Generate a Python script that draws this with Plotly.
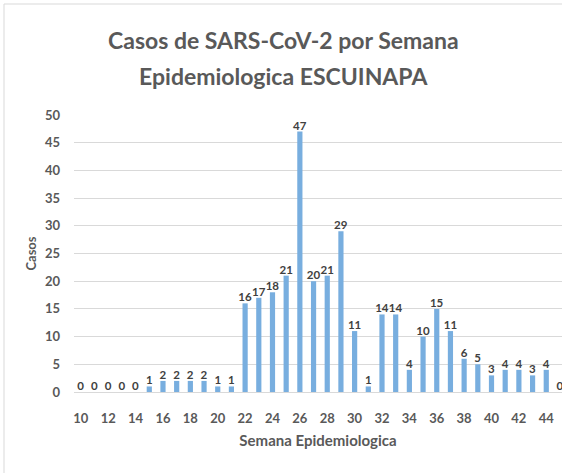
import plotly.graph_objects as go

# Epidemiological weeks and confirmed SARS-CoV-2 cases per week
semanas = [str(s) for s in range(10, 46)]
casos = [0, 0, 0, 0, 0, 1, 2, 2, 2, 2, 1, 1, 16, 17, 18, 21, 47, 20, 21, 29,
         11, 1, 14, 14, 4, 10, 15, 11, 6, 5, 3, 4, 4, 3, 4, 0]
etiquetas_x = [str(s) for s in range(10, 45, 2)]
etiquetas_y = list(range(0, 51, 5))
titulo = ["Casos de SARS-CoV-2 por Semana", "Epidemiologica ESCUINAPA"]

W, H = 562, 473
M_L, M_R, M_T, M_B = 74, 0, 115, 81
FONT = "Lato, 'Open Sans', sans-serif"
GRIS = "#595959"

plot_w = W - M_L - M_R
plot_h = H - M_T - M_B


def px_x(px):
    """Horizontal page pixel -> paper coordinate."""
    return (px - M_L) / plot_w


def px_y(py):
    """Vertical page pixel (from top) -> paper coordinate."""
    return (H - M_B - py) / plot_h


fig = go.Figure(go.Bar(
    x=semanas,
    y=casos,
    marker=dict(color="#78aedf", line=dict(width=0)),
    text=[str(c) for c in casos],
    textposition="outside",
    constraintext="none",
    textfont=dict(family=FONT, size=11.5, color="#404040", weight="bold"),
    cliponaxis=False,
))

# Two-line chart title, one annotation per line for Excel-like line spacing
anotaciones = [
    dict(
        text=linea,
        xref="paper", yref="paper",
        x=px_x(283), y=px_y(cy),
        xanchor="center", yanchor="middle",
        showarrow=False,
        font=dict(family=FONT, size=23, color=GRIS, weight="bold"),
    )
    for linea, cy in zip(titulo, [40, 76])
]

fig.update_layout(
    width=W,
    height=H,
    margin=dict(l=M_L, r=M_R, t=M_T, b=M_B),
    paper_bgcolor="white",
    plot_bgcolor="white",
    bargap=0.62,
    showlegend=False,
    annotations=anotaciones,
    xaxis=dict(
        type="category",
        range=[-0.5, 35.15],
        tickmode="array",
        tickvals=etiquetas_x,
        ticktext=etiquetas_x,
        showgrid=False,
        showline=False,
        ticks="",
        ticklabelstandoff=17,
        tickfont=dict(family=FONT, size=13, color=GRIS, weight="bold"),
        title=dict(
            text="Semana Epidemiologica",
            font=dict(family=FONT, size=15, color=GRIS, weight="bold"),
            standoff=10,
        ),
    ),
    yaxis=dict(
        range=[0, 50],
        tickmode="array",
        tickvals=etiquetas_y,
        showgrid=True,
        gridcolor="#d9d9d9",
        gridwidth=1,
        zeroline=True,
        zerolinecolor="#d9d9d9",
        zerolinewidth=1,
        showline=False,
        ticks="",
        ticklabelstandoff=13,
        tickfont=dict(family=FONT, size=13, color=GRIS, weight="bold"),
        title=dict(
            text="Casos",
            font=dict(family=FONT, size=13, color=GRIS, weight="bold"),
            standoff=5,
        ),
    ),
    shapes=[dict(
        type="rect",
        xref="paper", yref="paper",
        x0=px_x(4), x1=1.2,
        y0=-0.6, y1=px_y(4),
        line=dict(color="#d9d9d9", width=1),
        fillcolor="rgba(0,0,0,0)",
        layer="below",
    )],
)

fig.write_html("out.html")
